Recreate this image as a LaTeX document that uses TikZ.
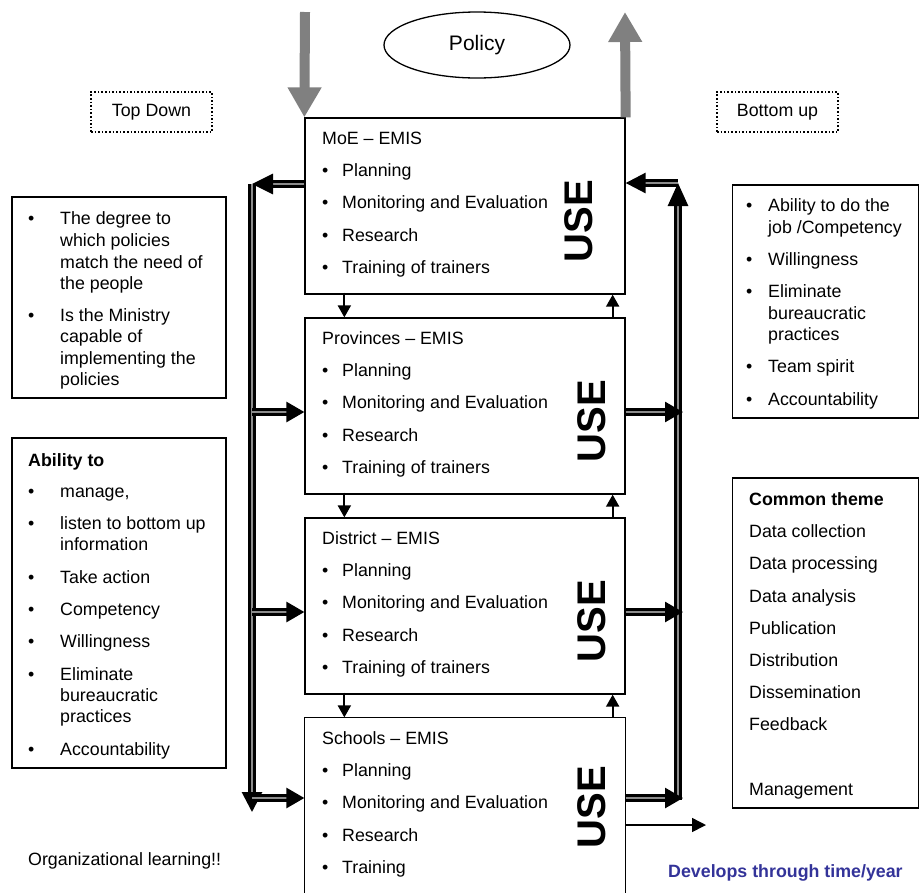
\documentclass[tikz,border=0pt]{standalone}
\usepackage{fontspec}
\setmainfont{Liberation Sans}
\usetikzlibrary{arrows.meta,shapes.geometric}
\definecolor{arrgray}{HTML}{808080}
\definecolor{devblue}{HTML}{333399}
\begin{document}
\begin{tikzpicture}[x=1pt,y=-1pt,
  txt/.style={font=\fontsize{17.8}{21.5}\selectfont, inner sep=0pt, anchor=base west},
  btxt/.style={font=\fontsize{17.8}{21.5}\selectfont\bfseries, inner sep=0pt, anchor=base west},
  mainbox/.style={draw, line width=1.3pt, minimum width=320pt, minimum height=176pt, inner sep=0pt},
  sidebox/.style={draw, line width=1.5pt, inner sep=0pt},
  dotbox/.style={draw, dotted, line width=1.6pt, minimum width=121pt, minimum height=40pt, inner sep=0pt, font=\fontsize{17.8}{21.5}\selectfont},
  dbl/.style={draw=black, double=black!45, line width=2.8pt, double distance=1.8pt},
  dtip/.style={-{Triangle[length=18pt,width=20pt]}},
  smallarr/.style={line width=2pt, -{Triangle[length=12pt,width=13pt]}},
  usetxt/.style={font=\fontsize{40}{40}\selectfont\bfseries, rotate=90, inner sep=0pt},
  grayarr/.style={draw=arrgray, line width=10pt, -{Triangle[length=30pt,width=32pt]}},
]
\useasboundingbox (0,0) rectangle (920,892);

% main boxes
\node[mainbox] (b1) at (465,206) {};
\node[mainbox] (b2) at (465,406) {};
\node[mainbox] (b3) at (465,606) {};
\node[mainbox, draw=none, minimum height=174pt] (b4) at (465,805) {};
\draw[line width=1.3pt] (b4.south west) -- (b4.north west) -- (b4.north east) -- (b4.south east);

% box texts
\foreach \k/\nm/\off in {1/MoE/0, 2/Provinces/200, 3/District/400, 4/Schools/600} {
  \node[txt] (tt\k) at (322,144+\off) {\nm\ – EMIS};
  \foreach \yy/\tx [count=\i] in {176/Planning, 208/Monitoring and Evaluation, 241/Research} {
    \node[txt] (bb\k\i) at (322,\yy+\off) {•};
    \node[txt] (ti\k\i) at (342,\yy+\off) {\tx};
  }
  \node[txt] (bb\k4) at (322,273+\off) {•};
}
\node[txt] (ti14) at (342,273) {Training of trainers};
\node[txt] (ti24) at (342,473) {Training of trainers};
\node[txt] (ti34) at (342,673) {Training of trainers};
\node[txt] (ti44) at (342,873) {Training};

% USE labels
\node[usetxt] (u1) at (579,221) {USE};
\node[usetxt] (u2) at (592,421) {USE};
\node[usetxt] (u3) at (592,621) {USE};
\node[usetxt] (u4) at (592,807) {USE};

% policy and gray arrows
\node[draw, ellipse, line width=1.3pt, minimum width=186pt, minimum height=66pt, font=\fontsize{21}{24}\selectfont] (policy) at (477,45) {Policy};
\coordinate (tdtop) at (305,12);
\coordinate (butop) at (625,12);
\draw[grayarr] (tdtop) -- (b1.north west);
\draw[grayarr] (b1.north east) -- (butop);

% dotted labels
\node[dotbox] (topdown) at (151.5,112) {Top Down};
\node[dotbox] (bottomup) at (777.5,112) {Bottom up};

% side boxes
\node[sidebox, minimum width=214pt, minimum height=201pt] (lbox1) at (119,297.5) {};
\node[sidebox, minimum width=214pt, minimum height=330pt] (lbox2) at (119,603) {};
\node[sidebox, minimum width=186pt, minimum height=233pt] (rbox1) at (825.5,301.5) {};
\node[sidebox, minimum width=186pt, minimum height=330pt] (rbox2) at (825.5,643) {};

% left box 1 text
\foreach \yy [count=\i] in {224,321} { \node[txt] (la\i) at (28,\yy) {•}; }
\foreach \yy/\tx [count=\i] in {224/The degree to, 246/which policies, 268/match the need of, 289/the people, 321/Is the Ministry, 342/capable of, 364/implementing the, 385/policies} {
  \node[txt] (lt\i) at (60,\yy) {\tx};
}

% right box 1 text
\foreach \yy [count=\i] in {211,265,297,372,405} { \node[txt] (ra\i) at (746,\yy) {•}; }
\foreach \yy/\tx [count=\i] in {211/Ability to do the, 233/{job /Competency}, 265/Willingness, 297/Eliminate, 319/bureaucratic, 340/practices, 372/Team spirit, 405/Accountability} {
  \node[txt] (rt\i) at (768,\yy) {\tx};
}

% left box 2 text
\node[btxt] (abl) at (28,466) {Ability to};
\foreach \yy [count=\i] in {497,529,583,615,647,680,755} { \node[txt] (lc\i) at (28,\yy) {•}; }
\foreach \yy/\tx [count=\i] in {497/{manage,}, 529/listen to bottom up, 550/information, 583/Take action, 615/Competency, 647/Willingness, 680/Eliminate, 701/bureaucratic, 722/practices, 755/Accountability} {
  \node[txt] (ld\i) at (60,\yy) {\tx};
}

% right box 2 text
\node[btxt] (ctheme) at (749,505) {Common theme};
\foreach \yy/\tx [count=\i] in {537/Data collection, 569/Data processing, 602/Data analysis, 634/Publication, 666/Distribution, 698/Dissemination, 730/Feedback, 795/Management} {
  \node[txt] (rc\i) at (749,\yy) {\tx};
}

% bottom texts
\node[txt] (orgl) at (28,865) {Organizational learning!!};
\node[btxt, text=devblue] (devl) at (668,877) {Develops through time/year};

% left double-line system
\coordinate (lt) at (252,184);
\coordinate (lb) at (252,812);
\coordinate (l2) at (252,412);
\coordinate (l3) at (252,612);
\coordinate (l4) at (252,798);
\draw[dbl, -{Triangle[length=21pt,width=20pt]}] (b1.west |- lt) -- (lt);
\draw[dbl, -{Triangle[length=20pt,width=20pt]}] (lt) -- (lb);
\draw[dbl, dtip] (l2) -- (b2.west |- l2);
\draw[dbl, dtip] (l3) -- (b3.west |- l3);
\draw[dbl, dtip] (l4) -- (b4.west |- l4);

% right double-line system
\coordinate (rt) at (678,183);
\coordinate (rb) at (678,800);
\coordinate (r2) at (683,412);
\coordinate (r3) at (683,612);
\coordinate (r4) at (683,798);
\draw[dbl, -{Triangle[length=23pt,width=20pt]}] (rb) -- (rt);
\draw[dbl, -{Triangle[length=20pt,width=20pt]}] (rt) -- (b1.east |- rt);
\draw[dbl, dtip] (b2.east |- r2) -- (r2);
\draw[dbl, dtip] (b3.east |- r3) -- (r3);
\draw[dbl, dtip] (b4.east |- r4) -- (r4);

% single arrow out of schools
\coordinate (dv) at (706,825);
\draw[line width=1.5pt, -{Triangle[length=14pt,width=14pt]}] (b4.east |- dv) -- (dv);

% small arrows between boxes
\draw[smallarr] ([xshift=40pt,yshift=2pt]b1.south west) -- ([xshift=40pt]b2.north west);
\draw[smallarr] ([xshift=40pt,yshift=2pt]b2.south west) -- ([xshift=40pt]b3.north west);
\draw[smallarr] ([xshift=40pt,yshift=2pt]b3.south west) -- ([xshift=40pt]b4.north west);
\draw[smallarr] ([xshift=-13pt]b2.north east) -- ([xshift=-13pt]b1.south east);
\draw[smallarr] ([xshift=-13pt]b3.north east) -- ([xshift=-13pt]b2.south east);
\draw[smallarr] ([xshift=-13pt]b4.north east) -- ([xshift=-13pt]b3.south east);
\end{tikzpicture}
\end{document}
